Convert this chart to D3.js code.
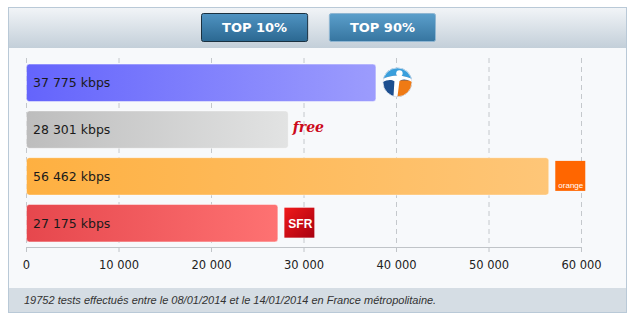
<!DOCTYPE html>
<html>
<head>
<meta charset="utf-8">
<script src="https://cdn.jsdelivr.net/npm/d3@7"></script>
<style>
  body { margin: 0; background: #fff; }
  svg text { font-family: "DejaVu Sans", Verdana, sans-serif; }
</style>
</head>
<body>
<script>
// data
var operators = ["Bouygues", "Free", "Orange", "SFR"];
var speeds = [37775, 28301, 56462, 27175];
var tickValues = [0, 10000, 20000, 30000, 40000, 50000, 60000];
var buttons = ["TOP 10%", "TOP 90%"];
var footnote = "19752 tests effectués entre le 08/01/2014 et le 14/01/2014 en France métropolitaine.";

// bar gradient colours (left -> right)
var barColors = {
  Bouygues: ["#6464fc", "#9c9cfd"],
  Free: ["#bdbdbd", "#e2e3e3"],
  Orange: ["#feb041", "#fec678"],
  SFR: ["#e6474d", "#fe7272"]
};

var width = 632, height = 317;

var svg = d3.select("body").append("svg")
  .attr("width", width)
  .attr("height", height);

var defs = svg.append("defs");

// header / button gradients
var hg = defs.append("linearGradient").attr("id", "hdr")
  .attr("x1", 0).attr("y1", 0).attr("x2", 0).attr("y2", 1);
hg.append("stop").attr("offset", "0%").attr("stop-color", "#f1f4f7");
hg.append("stop").attr("offset", "100%").attr("stop-color", "#c3cfd9");

var bg1 = defs.append("linearGradient").attr("id", "btn1")
  .attr("x1", 0).attr("y1", 0).attr("x2", 0).attr("y2", 1);
bg1.append("stop").attr("offset", "0%").attr("stop-color", "#4f93c2");
bg1.append("stop").attr("offset", "100%").attr("stop-color", "#2b6891");

var bg2 = defs.append("linearGradient").attr("id", "btn2")
  .attr("x1", 0).attr("y1", 0).attr("x2", 0).attr("y2", 1);
bg2.append("stop").attr("offset", "0%").attr("stop-color", "#5b9fcb");
bg2.append("stop").attr("offset", "100%").attr("stop-color", "#3675a0");

operators.forEach(function(op) {
  var g = defs.append("linearGradient").attr("id", "bar-" + op)
    .attr("x1", 0).attr("y1", 0).attr("x2", 1).attr("y2", 0);
  g.append("stop").attr("offset", "0%").attr("stop-color", barColors[op][0]);
  g.append("stop").attr("offset", "100%").attr("stop-color", barColors[op][1]);
});

var sfrG = defs.append("linearGradient").attr("id", "sfr")
  .attr("x1", 0).attr("y1", 0).attr("x2", 1).attr("y2", 1);
sfrG.append("stop").attr("offset", "0%").attr("stop-color", "#f01a1a");
sfrG.append("stop").attr("offset", "100%").attr("stop-color", "#a80010");

defs.append("clipPath").attr("id", "bqclip")
  .append("circle").attr("r", 14.5);

// panel
svg.append("rect")
  .attr("x", 8.5).attr("y", 7.5).attr("width", 618).attr("height", 305)
  .attr("fill", "#f7f9fb").attr("stroke", "#b9c9d7");
svg.append("rect")
  .attr("x", 9).attr("y", 8).attr("width", 617).attr("height", 40)
  .attr("fill", "url(#hdr)");
svg.append("rect")
  .attr("x", 9).attr("y", 288).attr("width", 617).attr("height", 24)
  .attr("fill", "#d5dde4");

// buttons
var btnX = d3.scaleBand().domain(buttons).range([201, 435]).paddingInner(0.17);
var btn = svg.selectAll(".btn").data(buttons).enter().append("g").attr("class", "btn");
btn.append("rect")
  .attr("x", function(d) { return btnX(d) + 0.5; })
  .attr("y", 13.5)
  .attr("width", btnX.bandwidth())
  .attr("height", 28)
  .attr("rx", 2)
  .attr("fill", function(d, i) { return i == 0 ? "url(#btn1)" : "url(#btn2)"; })
  .attr("stroke", function(d, i) { return i == 0 ? "#1b3140" : "#8fb6d2"; });
btn.append("text")
  .attr("x", function(d) { return btnX(d) + btnX.bandwidth() / 2 + 0.5; })
  .attr("y", 32)
  .attr("text-anchor", "middle")
  .attr("fill", "#fff")
  .style("font-weight", "bold")
  .style("font-size", "13px")
  .text(function(d) { return d; });

// scales
var x = d3.scaleLinear().domain([0, 60000]).range([26, 581]);
var y = d3.scaleBand().domain(operators).range([58, 247]).paddingInner(0.2).paddingOuter(0.12);

var fmt = function(v) { return d3.format(",")(v).replace(/,/g, " "); };

// grid
svg.append("g").selectAll("line").data(tickValues).enter().append("line")
  .attr("x1", function(d) { return x(d) + 0.5; })
  .attr("x2", function(d) { return x(d) + 0.5; })
  .attr("y1", 58).attr("y2", 247)
  .attr("stroke", "#c4c8cc")
  .attr("stroke-dasharray", "5,4");

// axis
var axis = svg.append("g")
  .attr("transform", "translate(0,247)")
  .call(d3.axisBottom(x).tickValues(tickValues).tickSize(5).tickSizeOuter(0).tickPadding(9).tickFormat(fmt));
axis.select(".domain").attr("stroke", "#c0c4c8");
axis.selectAll(".tick line").attr("stroke", "#c0c4c8");
axis.selectAll(".tick text")
  .attr("fill", "#222")
  .style("font-size", "11.5px")
  .style("font-family", "'DejaVu Sans', Verdana, sans-serif");

// bars
var bars = svg.append("g").selectAll("g").data(operators).enter().append("g");
bars.append("rect")
  .attr("x", x(0) + 0.5)
  .attr("y", function(d) { return y(d) + 0.5; })
  .attr("width", function(d, i) { return x(speeds[i]) - x(0); })
  .attr("height", y.bandwidth())
  .attr("rx", 3)
  .attr("fill", function(d) { return "url(#bar-" + d + ")"; })
  .attr("stroke", "rgba(255,255,255,0.45)");
bars.append("text")
  .attr("x", x(0) + 7)
  .attr("y", function(d) { return y(d) + y.bandwidth() / 2 + 5; })
  .attr("fill", "#1a1a1a")
  .style("font-size", "12.5px")
  .text(function(d, i) { return fmt(speeds[i]) + " kbps"; });

// logos next to bar ends
function logoX(i) { return x(speeds[i]) + 7; }
function logoY(i) { return y(operators[i]) + y.bandwidth() / 2; }

// Bouygues
var bq = svg.append("g").attr("transform", "translate(" + (logoX(0) + 15) + "," + logoY(0) + ")");
var bqc = bq.append("g").attr("clip-path", "url(#bqclip)");
bqc.append("rect").attr("x", -15).attr("y", -15).attr("width", 30).attr("height", 30).attr("fill", "#1d4f8f");
bqc.append("rect").attr("x", 0).attr("y", -2).attr("width", 15).attr("height", 17).attr("fill", "#ef7a14");
bqc.append("path").attr("d", "M-15,-15 H15 V-3 C6,-8 -6,-8 -15,-3 Z").attr("fill", "#3a9fdc");
bqc.append("path").attr("d", "M-15,-3 C-6,-8 6,-8 15,-3 L15,0 C8,-4 4,-3 2,-1 L0,15 L-4,15 L-3,-1 C-6,-3 -10,-3 -15,0 Z").attr("fill", "#fff");
bqc.append("circle").attr("cx", 2).attr("cy", -9).attr("r", 3.2).attr("fill", "#fff");
bq.append("circle").attr("r", 14.5).attr("fill", "none").attr("stroke", "#e8eef4").attr("stroke-width", 0.8);

// Free
svg.append("text")
  .attr("x", logoX(1) - 2)
  .attr("y", logoY(1) + 3)
  .attr("fill", "#cc0a1b")
  .style("font-family", "'DejaVu Serif', serif")
  .style("font-style", "italic")
  .style("font-weight", "bold")
  .style("font-size", "14px")
  .text("free");

// Orange
var og = svg.append("g").attr("transform", "translate(" + logoX(2) + "," + (logoY(2) - 15) + ")");
og.append("rect").attr("width", 30).attr("height", 30).attr("fill", "#ff6600");
og.append("text").attr("x", 28).attr("y", 27.5).attr("text-anchor", "end").attr("fill", "#fff")
  .style("font-family", "'Liberation Sans', Arial, sans-serif")
  .style("font-size", "8px").text("orange");

// SFR
var sg = svg.append("g").attr("transform", "translate(" + logoX(3) + "," + (logoY(3) - 15) + ")");
sg.append("rect").attr("width", 30).attr("height", 30).attr("fill", "url(#sfr)");
sg.append("text").attr("x", 16).attr("y", 20).attr("text-anchor", "middle").attr("fill", "#fff")
  .style("font-family", "'Liberation Sans', Arial, sans-serif")
  .style("font-weight", "bold")
  .style("font-size", "12px").text("SFR");

// footnote
svg.append("text")
  .attr("x", 24).attr("y", 304)
  .attr("fill", "#333")
  .style("font-family", "'Liberation Sans', Arial, sans-serif")
  .style("font-style", "italic")
  .style("font-size", "11px")
  .text(footnote);
</script>
</body>
</html>
